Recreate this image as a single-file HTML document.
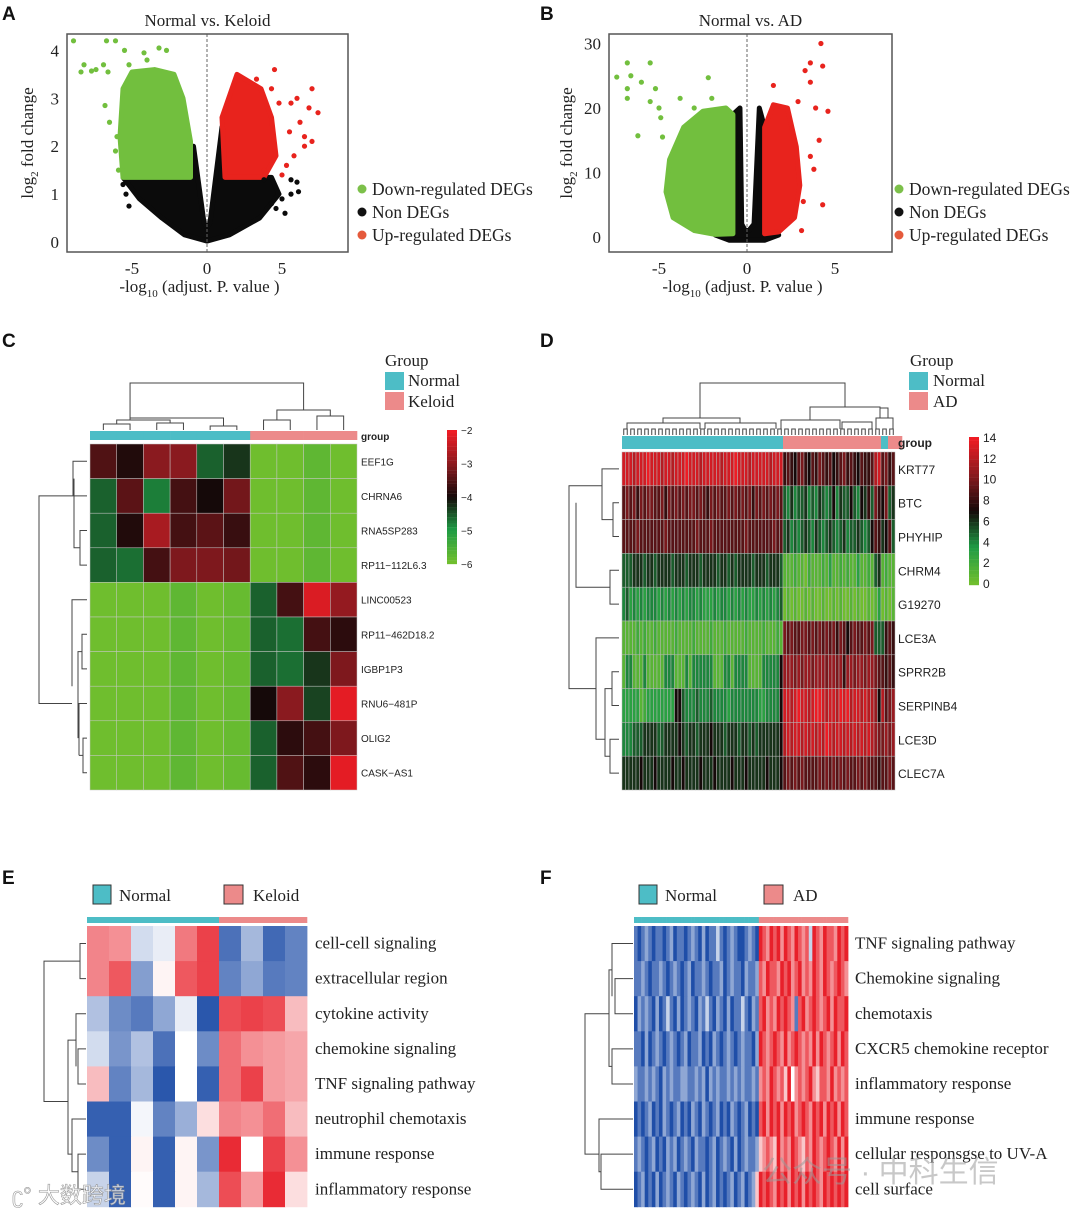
<!DOCTYPE html>
<html><head><meta charset="utf-8">
<style>
html,body{margin:0;padding:0;background:#fff;}
svg{display:block;}
.ser{font-family:"Liberation Serif",serif;}
.sans{font-family:"Liberation Sans",sans-serif;}
</style></head>
<body>
<svg id="fig" width="1080" height="1215" viewBox="0 0 1080 1215" xmlns="http://www.w3.org/2000/svg">
<rect x="0" y="0" width="1080" height="1215" fill="#fff"/>
<g class="sans" font-weight="bold" font-size="19" fill="#111">
<text x="2" y="20">A</text>
<text x="540" y="20">B</text>
<text x="2" y="347">C</text>
<text x="540" y="347">D</text>
<text x="2" y="884">E</text>
<text x="540" y="884">F</text>
</g>
<g id="pA"></g>
<g id="pB"></g>
<g id="pC"></g>
<g id="pD"></g>
<g id="pE"></g>
<g id="pF"></g>
<text x="12" y="1203" font-size="22" fill="#ffffff" fill-opacity="0.75" stroke="#999" stroke-width="0.6" class="sans" font-family="Liberation Sans, Noto Sans CJK SC, sans-serif">ʗ° 大数跨境</text>
<text x="762" y="1182" font-size="30" fill="#9a9a9a" fill-opacity="0.55" font-family="Liberation Sans, Noto Sans CJK SC, sans-serif">公众号 · 中科生信</text>
</svg>
<script>
// ---------- DATA ----------
// Panel A volcano (x = -log10 adj P, y = log2 FC)
const aNonRegion=[[-5.6,1.35],[-4.5,0.9],[-3,0.5],[-1.5,0.15],[0,0.02],[1.5,0.15],[3.5,0.5],[4.8,1.0],[4.3,1.35],[1.2,1.35],[1.0,2.4],[0.2,0.4],[0,0.3],[-0.2,0.4],[-0.9,2.0],[-1.2,1.35]];
const aDownRegion=[[-5.6,1.35],[-1.1,1.35],[-1.1,2.1],[-1.6,3.0],[-2.2,3.5],[-3.5,3.6],[-5.0,3.55],[-5.6,3.2],[-5.8,2.2]];
const aUpRegion=[[1.2,1.35],[3.8,1.35],[4.6,1.8],[4.3,2.6],[3.6,3.2],[2.0,3.5],[1.0,2.6]];
const aDownPts=[[-8.9,4.2],[-6.7,4.2],[-6.1,4.2],[-5.5,4.0],[-4.2,3.95],[-3.2,4.05],[-2.7,4.0],[-8.2,3.7],[-8.4,3.55],[-7.7,3.57],[-6.9,3.7],[-6.6,3.55],[-6.8,2.85],[-6.5,2.5],[-6.0,2.2],[-6.1,1.9],[-5.9,1.5],[-4.0,3.8],[-7.4,3.6],[-5.2,3.7]];
const aUpPts=[[4.5,3.6],[3.3,3.4],[7.0,3.2],[7.4,2.7],[6.8,2.8],[6.2,2.5],[6.5,2.2],[6.5,2.0],[5.5,2.3],[5.8,1.8],[5.3,1.6],[5.0,1.4],[4.8,2.9],[5.6,2.9],[4.3,3.2],[3.8,1.5],[6.0,3.0],[7.0,2.1]];
const aNonPts=[[-5.6,1.2],[-5.4,1.0],[-5.2,0.75],[5.6,1.3],[6.0,1.25],[5.6,1.0],[6.1,1.05],[5.0,0.9],[4.6,0.7],[5.2,0.6],[4.3,0.8],[3.8,1.3]];
const aXTicks=[-5,0,5];
const aYTicks=[0,1,2,3,4];
// Panel B volcano
const bNonRegion=[[-1.8,0.3],[-1,-0.5],[1,-0.5],[1.8,0.3],[1.5,1.5],[1.0,2],[1.0,17],[0.7,20],[0.4,2],[0.1,1.0],[-0.1,1.0],[-0.3,2],[-0.4,20],[-0.8,19],[-0.8,2],[-1.5,1.5]];
const bDownRegion=[[-0.8,0.5],[-0.8,19],[-1.2,20],[-2.5,19.5],[-3.6,17],[-4.4,12],[-4.6,7],[-4.2,3],[-3.0,1],[-1.8,0.4]];
const bUpRegion=[[1.0,0.5],[1.0,17],[1.5,20.5],[2.3,20],[2.8,14],[3.0,8],[2.7,3],[1.8,0.8]];
const bDownPts=[[-6.8,27],[-7.4,24.8],[-6.6,25],[-6.8,23],[-6.8,21.5],[-5.5,27],[-6,24],[-5.2,23],[-5.5,21],[-6.2,15.7],[-4.8,15.5],[-4.9,18.5],[-3.8,21.5],[-2.2,24.7],[-3,20],[-2,21.5],[-5.0,20]];
const bUpPts=[[4.2,30],[4.3,26.5],[3.6,27],[3.3,25.8],[3.6,24],[2.9,21],[4.6,19.5],[4.1,15],[3.8,10.5],[4.3,5],[3.2,5.5],[3.1,1],[1.5,23.5],[3.9,20],[3.6,12.5]];
const bXTicks=[-5,0,5];
const bYTicks=[0,10,20,30];
// Panel C heatmap (log expression, -6..-2)
const cGenes=["EEF1G","CHRNA6","RNA5SP283","RP11\u2212112L6.3","LINC00523","RP11\u2212462D18.2","IGBP1P3","RNU6\u2212481P","OLIG2","CASK\u2212AS1"];
const cGroups=["N","N","N","N","N","N","K","K","K","K"];
const cValues=[
[-3.5,-3.9,-3.0,-3.0,-4.6,-4.3,-6,-6,-5.8,-6],
[-4.6,-3.4,-4.8,-3.6,-4.0,-3.2,-6,-6,-5.8,-6],
[-4.6,-3.9,-2.7,-3.6,-3.4,-3.7,-6,-6,-5.8,-6],
[-4.6,-4.7,-3.6,-3.1,-3.1,-3.2,-6,-6,-5.8,-6],
[-6,-6,-6,-5.8,-6,-5.9,-4.6,-3.6,-2.2,-2.9],
[-6,-6,-6,-5.8,-6,-5.9,-4.6,-4.7,-3.6,-3.8],
[-6,-6,-6,-5.8,-6,-5.9,-4.6,-4.7,-4.3,-3.1],
[-6,-6,-6,-5.8,-6,-5.9,-4.0,-3.0,-4.4,-2.1],
[-6,-6,-6,-5.8,-6,-5.9,-4.6,-3.8,-3.6,-3.1],
[-6,-6,-6,-5.8,-6,-5.9,-4.6,-3.5,-3.8,-2.1]];
const cTicks=[-2,-3,-4,-5,-6];
// Panel D heatmap (0..14, hex digit per sample)
const dGenes=["KRT77","BTC","PHYHIP","CHRM4","G19270","LCE3A","SPRR2B","SERPINB4","LCE3D","CLEC7A"];
const dGroups="NNNNNNNNNNNNNNNNNNNNNNNNNNNNNNNNNNNNNNNNNNNNNNAAAAAAAAAAAAAAAAAAAAAAAAAAAANNAAAA";
const dValues=[
"dddcdddedd dcddcddded ddcdddddcd ddedddcddd ddcddd 89879a8798 a989789a89 879889 cd 9a89",
"9a9a8a9aa9 9a8a9a9a9a a9a98a9a99 a9a9a9a8a9 a9a9a9 5464556454 6545746557 547685 a8 7a56",
"9999a99999 99a9999999 9a999a9999 99999a9999 999a99 5645456546 5456545645 565457 98 6795",
"5556665665 6666566656 6656666566 5656666566 656665 1112110211 1213112121 131121 56 1211",
"4534343444 3434343434 4343334344 3434343343 434345 0101001010 0100101001 010010 13 0101",
"1111212112 1111121111 2111121112 1111121111 211121 a9a99aa9a9 a9a9a8a979 a99a9a 55 5898",
"1441114111 1144411141 4444441114 4144441111 444447 bbbababbab bbabbab8bb abbabb a9 9898",
"3333312333 3333377544 4544454444 3444444443 344447 ddcdeddcde edcddcedec ddcdcc b7 c9ab",
"4445556666 5566667656 6566676665 6665665656 666667 cdcddcdcdc dcedcddcdc dcdcdc ba abab",
"6666676667 6666766766 6676667666 6766676666 676667 9a9a9a9999 a9a9a9a9a9 9a9a99 98 99a9"];
const dTicks=[14,12,10,8,6,4,2,0];
// Panel E (z-score -1..1)
const eTerms=["cell-cell signaling","extracellular region","cytokine activity","chemokine signaling","TNF signaling pathway","neutrophil chemotaxis","immune response","inflammatory response"];
const eGroups=["N","N","N","N","N","N","K","K","K","K"];
const eValues=[
[.55,.5,-.2,-.1,.6,.85,-.8,-.4,-.85,-.7],
[.55,.75,-.55,.05,.75,.85,-.7,-.5,-.75,-.7],
[-.35,-.65,-.75,-.5,-.1,-.95,.8,.85,.8,.3],
[-.2,-.6,-.35,-.8,0,-.65,.65,.5,.45,.4],
[.3,-.7,-.4,-.95,0,-.9,.65,.85,.45,.4],
[-.9,-.9,-.05,-.7,-.45,.15,.55,.5,.65,.3],
[-.65,-.9,.05,-.9,.05,-.6,.95,0,.85,.5],
[-.25,-.9,.02,-.9,.05,-.4,.8,.45,.95,.15]];
// Panel F (digit 0..8 -> z -1..1)
const fTerms=["TNF signaling pathway","Chemokine signaling","chemotaxis","CXCR5 chemokine receptor","inflammatory response","immune response","cellular responsgse to UV-A","cell surface"];
const fNormalCount=35;
const fValues=[
"1012101101 2011012102 0113101210 01210 8768786876 8767387687 76878",
"1121011210 1210120112 1011201211 02112 7687768786 7867687687 67876",
"0212102013 1020121021 3102102011 31021 7867687876 1786787678 68778",
"1102012101 2101201120 1021012101 21102 8767876867 8767686876 78687",
"2112121021 2112211212 0212112121 21121 6768767584 6767865776 86767",
"0101201021 0120102102 1012010210 12010 7868786878 6787687868 78687",
"1210120102 1201210211 0120121020 12112 5676586768 7657687678 76868",
"0120102012 1021012102 0120101201 20125 8787687868 7868787687 87878"];

// ---------- HELPERS ----------
const NS="http://www.w3.org/2000/svg";
function mk(tag,attrs,parent,txt){const e=document.createElementNS(NS,tag);for(const k in attrs)e.setAttribute(k,attrs[k]);if(txt!==undefined)e.textContent=txt;parent.appendChild(e);return e;}
function hex(c){return [parseInt(c.slice(1,3),16),parseInt(c.slice(3,5),16),parseInt(c.slice(5,7),16)];}
function ramp(stops,t){t=Math.max(0,Math.min(1,t));const n=stops.length-1;const i=Math.min(n-1,Math.floor(t*n));const f=t*n-i;const a=hex(stops[i]),b=hex(stops[i+1]);return "rgb("+a.map((v,k)=>Math.round(v+(b[k]-v)*f)).join(",")+")";}
const RG=["#6fbe2e","#1e9b45","#150909","#8a1a1f","#ee1c24"];
const BWR=["#1f4ea8","#ffffff","#e8202a"];
const TEAL="#4dbdc6", PINK="#ec8a8a";

// ---------- VOLCANO ----------
function volcano(gid,cfg){
  const g=document.getElementById(gid);
  const X=v=>cfg.x0+v*cfg.sx, Y=v=>cfg.y0-v*cfg.sy;
  const clip="clip"+gid;
  const cp=mk("clipPath",{id:clip},g);mk("rect",{x:cfg.bx,y:cfg.by,width:cfg.bw,height:cfg.bh},cp);
  const inner=mk("g",{"clip-path":"url(#"+clip+")"},g);
  const poly=(pts,col,name)=>{const p=mk("polygon",{points:pts.map(q=>X(q[0])+","+Y(q[1])).join(" "),fill:col,stroke:col,"stroke-width":5,"stroke-linejoin":"round"},inner);
    
    };
  poly(cfg.non,"#0b0b0b","non-deg-cloud");
  poly(cfg.down,"#72bf3e","down-deg-cloud");
  poly(cfg.up,"#e8231d","up-deg-cloud");
  const dots=(pts,col,name)=>pts.forEach(q=>{const c=mk("circle",{cx:X(q[0]),cy:Y(q[1]),r:2.6,fill:col},inner);
    
    });
  dots(cfg.nonPts,"#0b0b0b","non-deg-point");
  dots(cfg.downPts,"#72bf3e","down-deg-point");
  dots(cfg.upPts,"#e8231d","up-deg-point");
  mk("line",{x1:X(0),x2:X(0),y1:cfg.by,y2:cfg.by+cfg.bh,stroke:"#666","stroke-dasharray":"3,2","stroke-width":1},g);
  mk("rect",{x:cfg.bx,y:cfg.by,width:cfg.bw,height:cfg.bh,fill:"none",stroke:"#555","stroke-width":1.5},g);
  const ser={"class":"ser",fill:"#222"};
  cfg.xt.forEach(t=>{const e=mk("text",Object.assign({x:X(t),y:cfg.by+cfg.bh+22,"font-size":17,"text-anchor":"middle"},ser),g,t<0?"-"+Math.abs(t):String(t));
    });
  cfg.yt.forEach(t=>{const e=mk("text",Object.assign({x:cfg.bx-8,y:Y(t)+6,"font-size":17,"text-anchor":"end"},ser),g,String(t));
    });
  const tt=mk("text",Object.assign({x:cfg.bx+cfg.bw/2,y:26,"font-size":17,"text-anchor":"middle"},ser),g,cfg.title);
  
  const xa=mk("text",Object.assign({x:cfg.bx+cfg.bw/2-8,y:292,"font-size":17,"text-anchor":"middle"},ser),g);
  
  xa.innerHTML='-log<tspan font-size="11" dy="5">10</tspan><tspan dy="-5"> (adjust. P. value )</tspan>';
  const ya=mk("text",Object.assign({x:0,y:0,"font-size":17,"text-anchor":"middle",transform:"translate("+cfg.ytx+",143) rotate(-90)"},ser),g);
  
  ya.innerHTML='log<tspan font-size="11" dy="5">2</tspan><tspan dy="-5"> fold change</tspan>';
  [["Down-regulated DEGs","#7cc04a"],["Non DEGs","#111"],["Up-regulated DEGs","#e55a3c"]].forEach((l,i)=>{
    const lg=mk("g",{},g);
    mk("circle",{cx:cfg.lx,cy:189+i*23,r:4.5,fill:l[1]},lg);
    mk("text",Object.assign({x:cfg.lx+10,y:195+i*23,"font-size":17.5},ser),lg,l[0]);
  });
}
volcano("pA",{x0:207,sx:15,y0:242,sy:47.9,bx:67,by:34,bw:281,bh:218,non:aNonRegion,down:aDownRegion,up:aUpRegion,nonPts:aNonPts,downPts:aDownPts,upPts:aUpPts,xt:aXTicks,yt:aYTicks,title:"Normal vs. Keloid",ytx:33,lx:362});
volcano("pB",{x0:747,sx:17.6,y0:237,sy:6.45,bx:609,by:34,bw:283,bh:218,non:bNonRegion,down:bDownRegion,up:bUpRegion,nonPts:[],downPts:bDownPts,upPts:bUpPts,xt:bXTicks,yt:bYTicks,title:"Normal vs. AD",ytx:572,lx:899});

// ---------- HEATMAP ----------
function heat(g,vals,x0,y0,cw,rh,colFn,border){
  vals.forEach((row,r)=>row.forEach((v,c)=>{
    const e=mk("rect",{x:x0+c*cw,y:y0+r*rh,width:cw+(border?0:0.4),height:rh+(border?0:0.4),fill:colFn(v),stroke:border||"none","stroke-width":border?0.5:0},g);
    
    
  }));
}
function groupBar(g,groups,x0,y,cw,h){
  groups.forEach((gr,i)=>{const e=mk("rect",{x:x0+i*cw,y:y,width:cw+0.3,height:h,fill:gr==="N"?TEAL:PINK},g);
    
    });
}
function dendro(g,d){mk("path",{d:d,fill:"none",stroke:"#444","stroke-width":1},g);}
function lbl(g,x,y,t,size,cls,name,extra){const e=mk("text",Object.assign({x:x,y:y,"font-size":size,"class":cls,fill:"#222"},extra||{}),g,t);
  return e;}

// Panel C
(function(){
  const g=document.getElementById("pC");
  const x0=90,y0=444,cw=26.7,rh=34.6;
  heat(g,cValues,x0,y0,cw,rh,v=>ramp(RG,(v+6)/4),"#c8c8c8");
  groupBar(g,cGroups,x0,431,cw,9);
  lbl(g,361,440,"group",10,"sans","group-label",{"font-weight":"bold"});
  cGenes.forEach((n,i)=>lbl(g,361,y0+i*rh+rh/2+4,n,10,"sans","row-label"));
  const cx=i=>x0+cw*(i+0.5);
  dendro(g,"M"+cx(1)+" 430V424H"+cx(0)+"V430 M"+cx(3)+" 430V423H"+cx(2)+"V430 M"+cx(5)+" 430V426H"+cx(4)+"V430 M"+(cx(0)+cx(1))/2+" 424V420H"+(cx(2)+cx(3))/2+"V423 M"+(cx(0)+cx(2))/2+" 420V418H"+(cx(4)+cx(5))/2+"V426 M"+(cx(2)+cx(0))/2+" 418V383H"+(cx(7)+cx(8))/2+"V410 M"+cx(6)+" 430V420H"+cx(7)+"V430 M"+cx(8)+" 430V416H"+cx(9)+"V430 M"+(cx(6)+cx(7))/2+" 420V410H"+(cx(8)+cx(9))/2+"V416");
  const ry=i=>y0+rh*(i+0.5);
  dendro(g,"M87 "+ry(0)+"H73V"+ry(1)+"H87 M87 "+ry(2)+"H80V"+ry(3)+"H87 M80 "+(ry(2)+ry(3))/2+"H74V"+(ry(0)+ry(1))/2+" M74 "+(ry(0)+ry(2))/2+"H39V"+(ry(6)+ry(8))/2+"H72 M87 "+ry(4)+"H72V"+(ry(5)+ry(8))/2+" M87 "+ry(5)+"H82V"+ry(6)+"H87 M82 "+(ry(5)+ry(6))/2+"H78V"+(ry(7)+ry(9))/2+" M87 "+ry(7)+"H79V"+(ry(8)+ry(9))/2+" M87 "+ry(8)+"H83V"+ry(9)+"H87 M83 "+(ry(8)+ry(9))/2+"H79");
  // colorbar
  const cb=mk("g",{},g);
  for(let i=0;i<40;i++)mk("rect",{x:447,y:430+i*3.35,width:10,height:3.5,fill:ramp(RG,1-i/39)},cb);
  cTicks.forEach(t=>lbl(g,461,430+(-2-t)/4*134+4,"\u2212"+Math.abs(t),10,"sans","colorbar-tick"));
  lbl(g,385,366,"Group",17,"ser","legend-title");
  mk("rect",{x:385,y:372,width:19,height:18,fill:TEAL},g);
  mk("rect",{x:385,y:392,width:19,height:18,fill:PINK},g);
  lbl(g,408,386,"Normal",17,"ser","legend-normal");
  lbl(g,408,407,"Keloid",17,"ser","legend-keloid");
})();

// Panel D
(function(){
  const g=document.getElementById("pD");
  const rows=dValues.map(s=>s.replace(/ /g,"").split("").map(ch=>parseInt(ch,16)));
  const n=rows[0].length;
  const x0=622,y0=452,cw=273/n,rh=33.8;
  heat(g,rows,x0,y0,cw,rh,v=>ramp(RG,v/14),"#b8b8b8");
  groupBar(g,dGroups.split(""),x0,436,cw,13);
  lbl(g,898,447,"group",12,"sans","group-label",{"font-weight":"bold"});
  dGenes.forEach((nm,i)=>lbl(g,898,y0+i*rh+rh/2+5,nm,12,"sans","row-label"));
  // column dendrogram (leaf-level ticks + top structure)
  let d="";
  for(let i=0;i<n;i+=2){const a=x0+cw*(i+0.5),b=x0+cw*(i+1.5);d+="M"+a+" 435V429H"+b+"V435 ";}
  d+="M627 429V423H700V429 M705 429V423H776V429 M663 423V418H740V423 M700 418V383H845V407 ";
  d+="M781 429V420H840V429 M842 429V422H872V429 M810 420V407H880V418 M876 429V418H893V429 M888 418V408H880";
  dendro(g,d);
  const ry=i=>y0+rh*(i+0.5);
  dendro(g,"M619 "+ry(1)+"H613V"+ry(2)+"H619 M619 "+ry(0)+"H602V"+(ry(1)+ry(2))/2+"H613 M619 "+ry(3)+"H610V"+ry(4)+"H619 M602 "+(ry(0)+ry(1))/2+"H569V"+(ry(5)+ry(8))/2+"H596 M610 "+(ry(3)+ry(4))/2+"H576V"+(ry(0)+ry(2))/2+" M619 "+ry(5)+"H596V"+(ry(7)+ry(9))/2+"H605 M619 "+ry(6)+"H612V"+ry(7)+"H619 M619 "+ry(8)+"H610V"+ry(9)+"H619 M612 "+(ry(6)+ry(7))/2+"H605V"+(ry(8)+ry(9))/2+"H610");
  const cb=mk("g",{},g);
  for(let i=0;i<40;i++)mk("rect",{x:969,y:437+i*3.7,width:10,height:3.9,fill:ramp(RG,1-i/39)},cb);
  dTicks.forEach(t=>lbl(g,983,437+(14-t)/14*146+5,String(t),12,"sans","colorbar-tick"));
  lbl(g,910,366,"Group",17,"ser","legend-title");
  mk("rect",{x:909,y:372,width:19,height:18,fill:TEAL},g);
  mk("rect",{x:909,y:392,width:19,height:18,fill:PINK},g);
  lbl(g,933,386,"Normal",17,"ser","legend-normal");
  lbl(g,933,407,"AD",17,"ser","legend-ad");
})();

// Panel E
(function(){
  const g=document.getElementById("pE");
  const x0=87,y0=926,cw=22,rh=35.1;
  heat(g,eValues,x0,y0,cw,rh,v=>ramp(BWR,(v+1)/2),null);
  groupBar(g,eGroups,x0,917,cw,6);
  eTerms.forEach((t,i)=>lbl(g,315,y0+i*rh+rh/2+5,t,17,"ser","row-label"));
  const ry=i=>y0+rh*(i+0.5);
  dendro(g,"M86 "+ry(0)+"H80V"+ry(1)+"H86 M80 "+(ry(0)+ry(1))/2+"H44V"+(ry(2)+ry(7))/2+"H68 M86 "+ry(2)+"H76V"+(ry(3)+ry(4))/2+" M86 "+ry(3)+"H78V"+ry(4)+"H86 M76 "+(ry(2)+ry(3.5))/2+"H68V"+(ry(5)+ry(7))/2+"H72 M86 "+ry(5)+"H72V"+(ry(6)+ry(7))/2+"H78 M86 "+ry(6)+"H78V"+ry(7)+"H86");
  mk("rect",{x:93,y:885,width:18,height:19,fill:TEAL,stroke:"#333","stroke-width":1},g);
  mk("rect",{x:224,y:885,width:19,height:19,fill:PINK,stroke:"#333","stroke-width":1},g);
  lbl(g,119,901,"Normal",17,"ser","legend-normal");
  lbl(g,253,901,"Keloid",17,"ser","legend-keloid");
})();

// Panel F
(function(){
  const g=document.getElementById("pF");
  const rows=fValues.map(s=>s.replace(/ /g,"").split("").map(ch=>(parseInt(ch,10)-4)/4));
  const n=rows[0].length;
  const x0=634,y0=926,cw=214/n,rh=35.1;
  heat(g,rows,x0,y0,cw,rh,v=>ramp(BWR,(v+1)/2),null);
  const grp=rows[0].map((_,i)=>i<fNormalCount?"N":"A");
  groupBar(g,grp,x0,917,cw,6);
  fTerms.forEach((t,i)=>lbl(g,855,y0+i*rh+rh/2+5,t,17,"ser","row-label"));
  const ry=i=>y0+rh*(i+0.5);
  dendro(g,"M633 "+ry(0)+"H612V"+(ry(1)+ry(2))/2+" M633 "+ry(1)+"H615V"+ry(2)+"H633 M612 "+(ry(0)+ry(1.5))/2+"H609V"+(ry(3)+ry(4))/2+"H612 M633 "+ry(3)+"H612V"+ry(4)+"H633 M609 "+(ry(1)+ry(3))/2+"H585V"+(ry(5)+ry(7))/2+"H599 M633 "+ry(5)+"H599V"+(ry(6)+ry(7))/2+"H601 M633 "+ry(6)+"H601V"+ry(7)+"H633");
  mk("rect",{x:639,y:885,width:18,height:19,fill:TEAL,stroke:"#333","stroke-width":1},g);
  mk("rect",{x:764,y:885,width:19,height:19,fill:PINK,stroke:"#333","stroke-width":1},g);
  lbl(g,665,901,"Normal",17,"ser","legend-normal");
  lbl(g,793,901,"AD",17,"ser","legend-ad");
})();
</script>
</body></html>
